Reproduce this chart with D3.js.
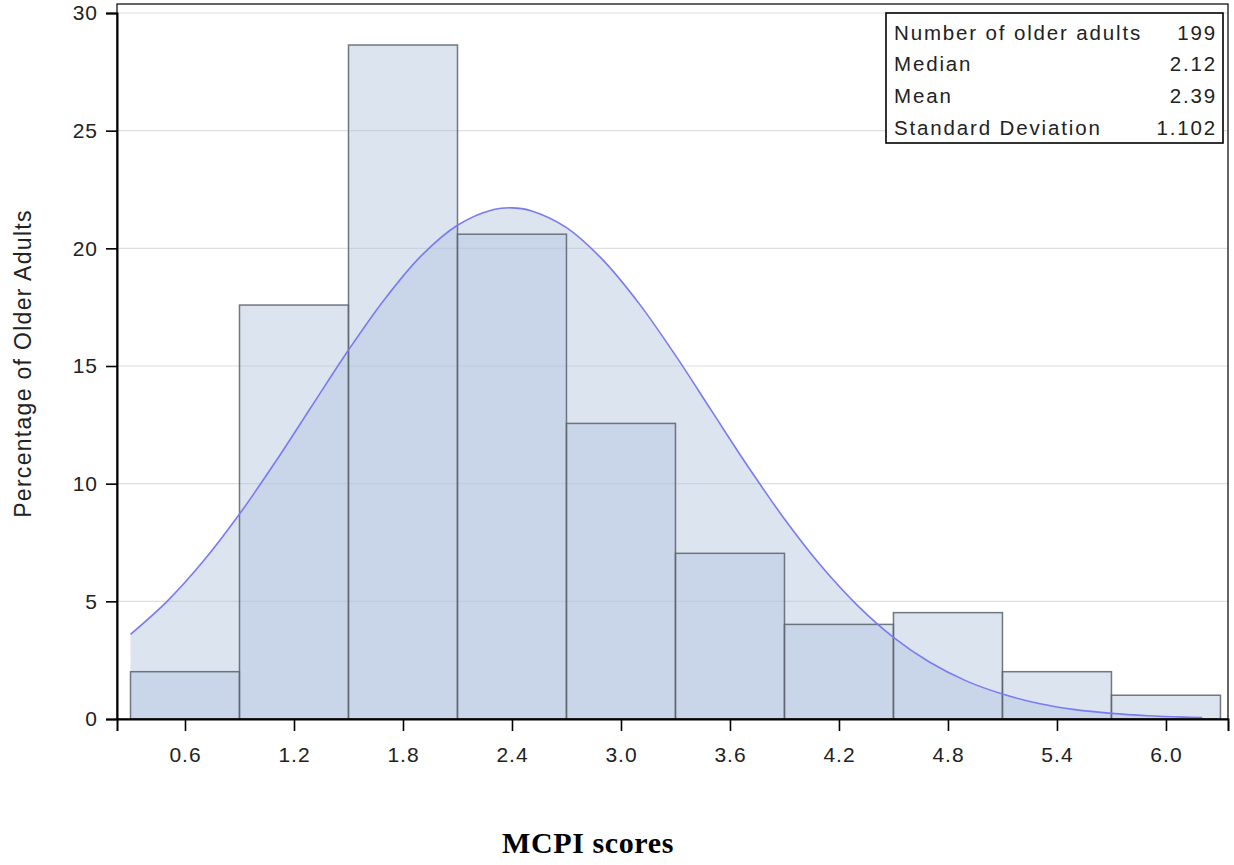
<!DOCTYPE html>
<html>
<head>
<meta charset="utf-8">
<script src="https://cdn.jsdelivr.net/npm/d3@7"></script>
<style>
  html, body { margin: 0; padding: 0; background: #fff; }
  svg { display: block; }
</style>
</head>
<body>
<svg id="chart" width="1234" height="865"></svg>
<script>
// Histogram bins (midpoints) and percentage of older adults in each bin
const binMids = [0.6, 1.2, 1.8, 2.4, 3.0, 3.6, 4.2, 4.8, 5.4, 6.0];
const binPercents = [2.01, 17.59, 28.64, 20.60, 12.56, 7.04, 4.02, 4.52, 2.01, 1.01];
const binWidth = 0.6;

// Fitted normal curve, sampled along the score axis
const curveX = [0.3, 0.5, 0.7, 0.9, 1.1, 1.3, 1.5, 1.7, 1.9, 2.1, 2.3, 2.4, 2.5, 2.7, 2.9, 3.1, 3.3, 3.5, 3.7, 3.9, 4.1, 4.3, 4.5, 4.7, 4.9, 5.1, 5.3, 5.5, 5.7, 5.9, 6.1, 6.2];
const curveY = [3.60, 4.99, 6.70, 8.71, 10.95, 13.32, 15.68, 17.85, 19.68, 20.98, 21.65, 21.72, 21.61, 20.88, 19.51, 17.65, 15.45, 13.08, 10.72, 8.50, 6.52, 4.84, 3.47, 2.41, 1.62, 1.06, 0.66, 0.40, 0.24, 0.14, 0.08, 0.06];

// Axis ticks
const xTicks = [0.6, 1.2, 1.8, 2.4, 3.0, 3.6, 4.2, 4.8, 5.4, 6.0];
const yTicks = [0, 5, 10, 15, 20, 25, 30];

// Summary statistics inset
const statLabels = ["Number of older adults", "Median", "Mean", "Standard Deviation"];
const statValues = ["199", "2.12", "2.39", "1.102"];

const svg = d3.select("#chart");
const plotLeft = 117, plotRight = 1228, plotTop = 4, plotBottom = 719;

const x = d3.scaleLinear().domain([0.2257, 6.3415]).range([plotLeft, plotRight]);
const y = d3.scaleLinear().domain([0, 30]).range([plotBottom, 13]);

const fillColor = "rgb(178,196,222)";
const fillOpacity = 0.45;
const font = "'Liberation Sans', Arial, sans-serif";
const textColor = "#222";

// Horizontal gridlines
svg.append("g")
  .selectAll("line")
  .data(yTicks.filter(d => d > 0))
  .join("line")
  .attr("x1", plotLeft).attr("x2", plotRight)
  .attr("y1", d => y(d)).attr("y2", d => y(d))
  .attr("stroke", "#dedede")
  .attr("stroke-width", 1.2);

// Area under the fitted normal curve
const pts = curveX.map((v, i) => [v, curveY[i]]);
svg.append("path")
  .datum(pts)
  .attr("d", d3.area()
    .x(d => x(d[0]))
    .y0(y(0))
    .y1(d => y(d[1]))
    .curve(d3.curveCatmullRom))
  .attr("fill", fillColor)
  .attr("fill-opacity", fillOpacity);

// Histogram bars
svg.append("g")
  .selectAll("rect")
  .data(binMids.map((m, i) => ({ m, p: binPercents[i] })))
  .join("rect")
  .attr("x", d => x(d.m - binWidth / 2))
  .attr("width", d => x(d.m + binWidth / 2) - x(d.m - binWidth / 2))
  .attr("y", d => y(d.p))
  .attr("height", d => y(0) - y(d.p))
  .attr("fill", fillColor)
  .attr("fill-opacity", fillOpacity)
  .attr("stroke", "#5a626b")
  .attr("stroke-opacity", 0.85)
  .attr("stroke-width", 1.5);

// Normal curve line
svg.append("path")
  .datum(pts)
  .attr("d", d3.line()
    .x(d => x(d[0]))
    .y(d => y(d[1]))
    .curve(d3.curveCatmullRom))
  .attr("fill", "none")
  .attr("stroke", "#7b7bf0")
  .attr("stroke-width", 1.6);

// Plot frame
svg.append("rect")
  .attr("x", plotLeft).attr("y", plotTop)
  .attr("width", plotRight - plotLeft).attr("height", plotBottom - plotTop)
  .attr("fill", "none")
  .attr("stroke", "#000")
  .attr("stroke-width", 1.2);

// Y axis
const yAxis = svg.append("g")
  .attr("transform", `translate(${plotLeft},0)`)
  .call(d3.axisLeft(y).tickValues(yTicks).tickSize(11).tickPadding(8).tickFormat(d3.format("d")));
yAxis.select(".domain").attr("stroke", "#000").attr("stroke-width", 2);
yAxis.selectAll(".tick line").attr("stroke", "#000").attr("stroke-width", 1.6);
yAxis.selectAll("text")
  .attr("font-family", font).attr("font-size", 21)
  .attr("letter-spacing", 1).attr("fill", textColor);

// X axis
const xAxis = svg.append("g")
  .attr("transform", `translate(0,${plotBottom})`)
  .call(d3.axisBottom(x).tickValues(xTicks).tickSize(12).tickPadding(16).tickFormat(d3.format(".1f")));
xAxis.select(".domain").attr("stroke", "#000").attr("stroke-width", 2);
xAxis.selectAll(".tick line").attr("stroke", "#000").attr("stroke-width", 1.6);
xAxis.selectAll("text")
  .attr("font-family", font).attr("font-size", 21)
  .attr("letter-spacing", 1).attr("fill", textColor);

// Axis titles
svg.append("text")
  .attr("transform", `translate(31,${(plotTop + plotBottom) / 2 + 2}) rotate(-90)`)
  .attr("text-anchor", "middle")
  .attr("font-family", font)
  .attr("font-size", 23)
  .attr("letter-spacing", 1.3)
  .attr("fill", textColor)
  .text("Percentage of Older Adults");

svg.append("text")
  .attr("x", 588).attr("y", 853)
  .attr("text-anchor", "middle")
  .attr("font-family", "'Liberation Serif', 'Times New Roman', serif")
  .attr("font-weight", "bold")
  .attr("font-size", 30)
  .attr("letter-spacing", 0.6)
  .attr("fill", "#000")
  .text("MCPI scores");

// Statistics inset
const inset = svg.append("g");
inset.append("rect")
  .attr("x", 886).attr("y", 13)
  .attr("width", 337).attr("height", 130)
  .attr("fill", "#fff")
  .attr("stroke", "#000")
  .attr("stroke-width", 1.6);
statLabels.forEach((lab, i) => {
  const cy = 39.5 + i * 31.8;
  inset.append("text")
    .attr("x", 894).attr("y", cy)
    .attr("font-family", font).attr("font-size", 20.5)
    .attr("letter-spacing", 1.85).attr("fill", textColor)
    .text(lab);
  inset.append("text")
    .attr("x", 1217).attr("y", cy)
    .attr("text-anchor", "end")
    .attr("font-family", font).attr("font-size", 20.5)
    .attr("letter-spacing", 1.85).attr("fill", textColor)
    .text(statValues[i]);
});
</script>
</body>
</html>
